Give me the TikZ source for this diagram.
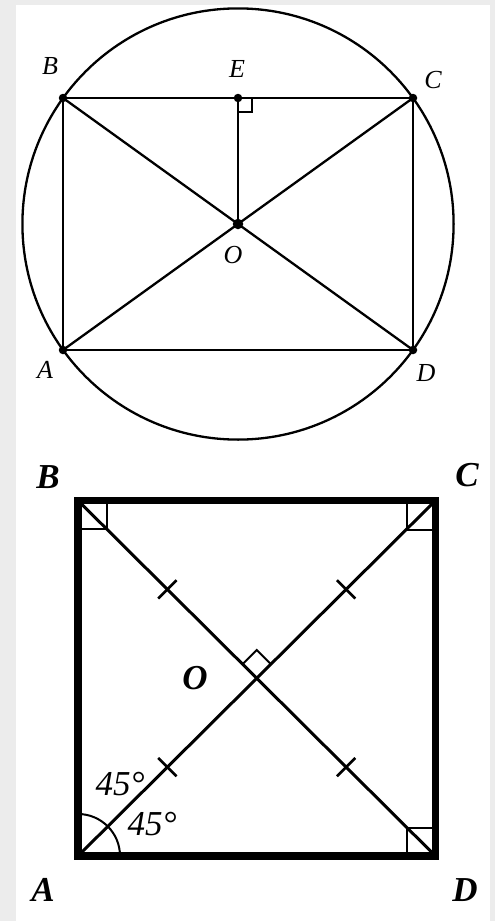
\documentclass[tikz,border=0pt]{standalone}
\usepackage{fontspec}
\setmainfont{Liberation Serif}
\usetikzlibrary{calc}
\definecolor{bggray}{RGB}{236,236,236}
\begin{document}
\begin{tikzpicture}[x=1pt,y=-1pt,
  fig/.style={line width=2.3pt},
  emark/.style={line width=1.6pt},
  dot/.style={circle,fill=black,inner sep=0pt,minimum size=8.5pt},
  bigdot/.style={circle,fill=black,inner sep=0pt,minimum size=10.5pt},
  lbl/.style={font=\fontsize{26}{26}\selectfont\itshape,inner sep=0pt},
  blbl/.style={font=\fontsize{35}{35}\selectfont\bfseries\itshape,inner sep=0pt},
  deg/.style={font=\fontsize{35}{35}\selectfont\itshape,inner sep=0pt},
  sq/.style={line width=7.5pt,line join=miter},
  diag/.style={line width=3pt},
  rmark/.style={line width=2pt},
  tickmark/.style={line width=2.5pt}]
\fill[bggray] (0,0) rectangle (495,921);
\fill[white] (16,5) rectangle (490,921);
\useasboundingbox (0,0) rectangle (495,921);
% ---------- top figure ----------
\coordinate (tA) at (63,350);
\coordinate (tB) at (63,98);
\coordinate (tC) at (413,98);
\coordinate (tD) at (413,350);
\coordinate (tO) at (238,224);
\coordinate (tE) at (238,98);
\draw[fig] (tO) circle[radius=215.6pt];
\draw[fig] (tA) -- (tB) -- (tC) -- (tD) -- cycle;
\draw[fig] (tA) -- (tC);
\draw[fig] (tB) -- (tD);
\draw[fig] (tE) -- (tO);
\draw[emark] ($(tE)+(0,14)$) -| ($(tE)+(14,0)$);
\node[dot] (dA) at (tA) {};
\node[dot] (dB) at (tB) {};
\node[dot] (dC) at (tC) {};
\node[dot] (dD) at (tD) {};
\node[dot] (dE) at (tE) {};
\node[bigdot] (dO) at (tO) {};
\node[lbl] (lB) at (50,66) {B};
\node[lbl] (lE) at (237,69) {E};
\node[lbl] (lC) at (433,80) {C};
\node[lbl] (lO) at (233,255) {O};
\node[lbl] (lA) at (45,370) {A};
\node[lbl] (lD) at (426,373) {D};
% ---------- bottom figure ----------
\coordinate (bA) at (78,856);
\coordinate (bB) at (78,500.5);
\coordinate (bC) at (435.5,500.5);
\coordinate (bD) at (435.5,856);
\coordinate (bO) at (256.75,678.25);
\draw[diag] (bA) -- (bC);
\draw[diag] (bB) -- (bD);
\draw[rmark] ($(bB)+(28.5,0)$) |- ($(bB)+(0,28.5)$);
\draw[rmark] ($(bC)+(-29,0)$) |- ($(bC)+(0,29)$);
\draw[rmark] ($(bD)+(-28.5,0)$) |- ($(bD)+(0,-28.5)$);
\draw[rmark] ($(bO)+(-14.1,-14.1)$) -- ($(bO)+(0,-28.3)$) -- ($(bO)+(14.1,-14.1)$);
\draw[tickmark] ($(bB)!0.5!(bO)+(-9.2,9.2)$) -- ($(bB)!0.5!(bO)+(9.2,-9.2)$);
\draw[tickmark] ($(bD)!0.5!(bO)+(-9.2,9.2)$) -- ($(bD)!0.5!(bO)+(9.2,-9.2)$);
\draw[tickmark] ($(bC)!0.5!(bO)+(-9.2,-9.2)$) -- ($(bC)!0.5!(bO)+(9.2,9.2)$);
\draw[tickmark] ($(bA)!0.5!(bO)+(-9.2,-9.2)$) -- ($(bA)!0.5!(bO)+(9.2,9.2)$);
\draw[rmark] ($(bA)+(42,0)$) arc[start angle=0,end angle=90,radius=42pt];
\draw[sq] (bA) -- (bB) -- (bC) -- (bD) -- cycle;
\node[blbl] (mB) at (48,477) {B};
\node[blbl] (mC) at (467,475) {C};
\node[blbl] (mA) at (43,890) {A};
\node[blbl] (mD) at (465,890) {D};
\node[blbl] (mO) at (195,678) {O};
\node[deg] (g1) at (120,784) {45°};
\node[deg] (g2) at (152,824) {45°};
\end{tikzpicture}
\end{document}
